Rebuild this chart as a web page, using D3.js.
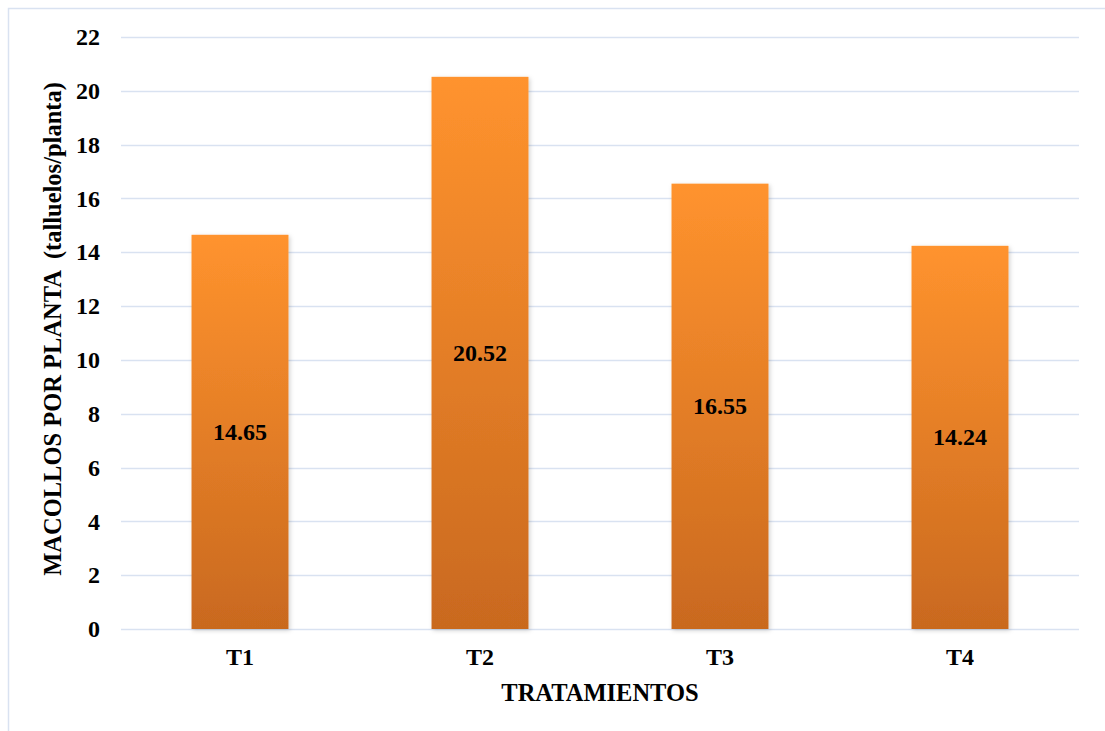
<!DOCTYPE html>
<html>
<head>
<meta charset="utf-8">
<script src="https://cdn.jsdelivr.net/npm/d3@7"></script>
<style>
  html, body { margin: 0; padding: 0; background: #fff; }
  svg { display: block; }
  text { font-family: "Liberation Serif", "Times New Roman", serif; font-weight: bold; fill: #000; }
</style>
</head>
<body>
<svg id="chart" width="1105" height="731"></svg>
<script>
// Tallering per plant by treatment
const categories = ["T1", "T2", "T3", "T4"];
const values = [14.65, 20.52, 16.55, 14.24];
const yTicks = [0, 2, 4, 6, 8, 10, 12, 14, 16, 18, 20, 22];
const yTitle = "MACOLLOS POR PLANTA  (talluelos/planta)";
const xTitle = "TRATAMIENTOS";

const svg = d3.select("#chart");
const W = 1105, H = 731;

// outer frame
svg.append("rect")
  .attr("x", 8.5).attr("y", 8.5)
  .attr("width", W + 20).attr("height", H + 20)
  .attr("fill", "#fff").attr("stroke", "#d9e2f1").attr("stroke-width", 1.5);

const defs = svg.append("defs");
const grad = defs.append("linearGradient")
  .attr("id", "barGrad").attr("x1", 0).attr("y1", 0).attr("x2", 0).attr("y2", 1);
grad.append("stop").attr("offset", "0%").attr("stop-color", "#ff932e");
grad.append("stop").attr("offset", "100%").attr("stop-color", "#c9691f");

const shadow = defs.append("filter").attr("id", "barShadow")
  .attr("x", "-10%").attr("y", "-10%").attr("width", "125%").attr("height", "125%");
shadow.append("feDropShadow")
  .attr("dx", 1.5).attr("dy", 1.5).attr("stdDeviation", 2)
  .attr("flood-color", "#000").attr("flood-opacity", 0.18);

const x = d3.scaleBand()
  .domain(categories)
  .range([120, 1080])
  .paddingInner(0.596)
  .paddingOuter(0.298);

const y = d3.scaleLinear()
  .domain([0, 22])
  .range([629, 37]);

// gridlines
svg.append("g")
  .selectAll("line")
  .data(yTicks)
  .join("line")
  .attr("x1", 121).attr("x2", 1079)
  .attr("y1", d => Math.round(y(d)) + 0.5)
  .attr("y2", d => Math.round(y(d)) + 0.5)
  .attr("stroke", "#d9e2f1").attr("stroke-width", 1.5);

// y axis labels
const yAxis = d3.axisLeft(y).tickValues(yTicks).tickSize(0).tickPadding(0);
const yg = svg.append("g").attr("transform", "translate(100,0)").call(yAxis);
yg.select(".domain").remove();
yg.selectAll("text")
  .style("font-family", "'Liberation Serif', 'Times New Roman', serif")
  .style("font-weight", "bold")
  .style("font-size", "24px")
  .attr("fill", "#000");

// x axis labels
const xAxis = d3.axisBottom(x).tickSize(0).tickPadding(0);
const xg = svg.append("g").attr("transform", "translate(0,648)").call(xAxis);
xg.select(".domain").remove();
xg.selectAll("text")
  .style("font-family", "'Liberation Serif', 'Times New Roman', serif")
  .style("font-weight", "bold")
  .style("font-size", "24px")
  .attr("fill", "#000");

// bars
svg.append("g")
  .selectAll("rect")
  .data(values)
  .join("rect")
  .attr("x", (d, i) => x(categories[i]))
  .attr("y", d => y(d))
  .attr("width", x.bandwidth())
  .attr("height", d => y(0) - y(d))
  .attr("fill", "url(#barGrad)")
  .attr("filter", "url(#barShadow)");

// value labels
svg.append("g")
  .selectAll("text")
  .data(values)
  .join("text")
  .attr("x", (d, i) => x(categories[i]) + x.bandwidth() / 2)
  .attr("y", d => (y(d) + y(0)) / 2)
  .attr("text-anchor", "middle")
  .attr("dominant-baseline", "central")
  .style("font-size", "24px")
  .text(d => d.toFixed(2));

// axis titles
svg.append("text")
  .attr("x", 600).attr("y", 692)
  .attr("text-anchor", "middle")
  .attr("dominant-baseline", "central")
  .style("font-size", "24.5px")
  .text(xTitle);

svg.append("text")
  .attr("transform", "translate(52,329) rotate(-90)")
  .attr("text-anchor", "middle")
  .attr("dominant-baseline", "central")
  .style("font-size", "24.5px")
  .style("white-space", "pre")
  .attr("xml:space", "preserve")
  .text(yTitle);
</script>
</body>
</html>
